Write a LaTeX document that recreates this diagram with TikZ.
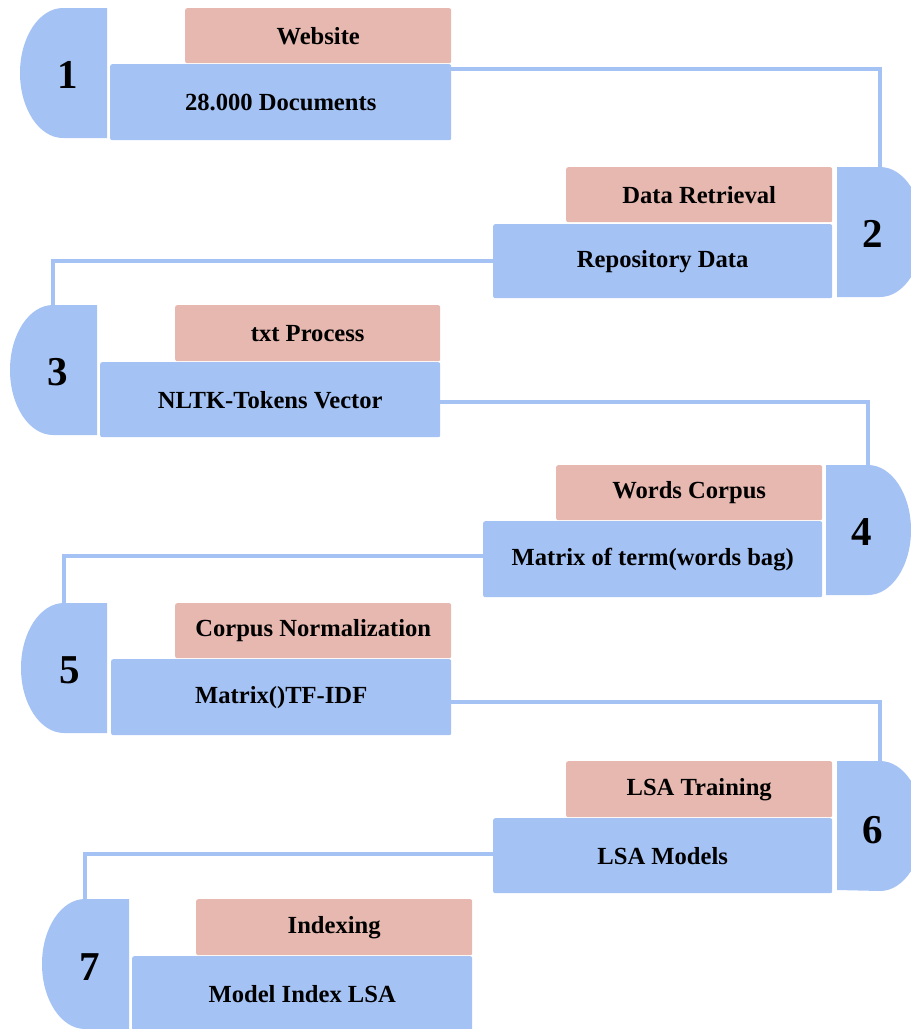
\documentclass[tikz,border=0pt]{standalone}
\usepackage{fontspec}
\setmainfont{Liberation Serif}
\definecolor{stepblue}{RGB}{164, 194, 244}
\definecolor{steppink}{RGB}{230, 184, 175}
\usepackage{tikz}
\usetikzlibrary{positioning}

\begin{document}
\begin{tikzpicture}[x=1pt, y=-1pt,
    pinkbox/.style={fill=steppink, rounded corners=2pt, inner sep=0pt, anchor=north west,
      minimum height=55pt, font=\bfseries\fontsize{24.6}{28}\selectfont},
    bluebox/.style={fill=stepblue, rounded corners=2pt, inner sep=0pt, anchor=north west,
      minimum height=75pt, font=\bfseries\fontsize{24.6}{28}\selectfont},
    tabnum/.style={inner sep=0pt, font=\bfseries\fontsize{41}{44}\selectfont},
    link/.style={draw=stepblue, line width=4pt}]
        \useasboundingbox (0,0) rectangle (911,1029);
        % step 1
        \fill[stepblue] (107,8) -- (63,8) arc[start angle=90, end angle=270, x radius=43pt, y radius=65pt] -- (107,138) -- cycle;
        \node[tabnum] (n1) at (68,75) {1};
        \node[pinkbox, minimum width=266pt] (p1) at (185,8) {Website};
        \node[bluebox, minimum width=341pt, minimum height=76pt] (b1) at (110,64) {28.000 Documents};
        % step 2
        \fill[stepblue] (837,167) -- (880,167) arc[start angle=90, end angle=-90, x radius=43pt, y radius=65pt] -- (837,297) -- cycle;
        \coordinate (c2) at (880,167);
        \node[tabnum] (n2) at (873,234) {2};
        \node[pinkbox, minimum width=266pt] (p2) at (566,167) {Data Retrieval};
        \node[bluebox, minimum width=339pt, minimum height=74pt] (b2) at (493,224) {Repository Data};
        % step 3
        \fill[stepblue] (97,305) -- (53,305) arc[start angle=90, end angle=270, x radius=43pt, y radius=65pt] -- (97,435) -- cycle;
        \coordinate (c3) at (53,305);
        \node[tabnum] (n3) at (58,372) {3};
        \node[pinkbox, minimum width=265pt, minimum height=56pt] (p3) at (175,305) {txt Process};
        \node[bluebox, minimum width=340pt] (b3) at (100,362) {NLTK-Tokens Vector};
        % step 4
        \fill[stepblue] (826,465) -- (868,465) arc[start angle=90, end angle=-90, x radius=43pt, y radius=65pt] -- (826,595) -- cycle;
        \coordinate (c4) at (868,465);
        \node[tabnum] (n4) at (862,532) {4};
        \node[pinkbox, minimum width=266pt] (p4) at (556,465) {Words Corpus};
        \node[bluebox, minimum width=339pt, minimum height=76pt] (b4) at (483,521) {Matrix of term(words bag)};
        % step 5
        \fill[stepblue] (107,603) -- (64,603) arc[start angle=90, end angle=270, x radius=43pt, y radius=65pt] -- (107,733) -- cycle;
        \coordinate (c5) at (64,603);
        \node[tabnum] (n5) at (70,670) {5};
        \node[pinkbox, minimum width=276pt] (p5) at (175,603) {Corpus Normalization};
        \node[bluebox, minimum width=340pt, minimum height=76pt] (b5) at (111,659) {Matrix()TF-IDF};
        % step 6
        \fill[stepblue] (837,761) -- (880,761) arc[start angle=90, end angle=-90, x radius=43pt, y radius=65pt] -- (837,890) -- cycle;
        \coordinate (c6) at (880,761);
        \node[tabnum] (n6) at (873,830) {6};
        \node[pinkbox, minimum width=266pt, minimum height=56pt] (p6) at (566,761) {LSA Training};
        \node[bluebox, minimum width=339pt] (b6) at (493,818) {LSA Models};
        % step 7
        \fill[stepblue] (129,899) -- (85,899) arc[start angle=90, end angle=270, x radius=43pt, y radius=65pt] -- (129,1029) -- cycle;
        \coordinate (c7) at (85,899);
        \node[tabnum] (n7) at (90,967) {7};
        \node[pinkbox, minimum width=276pt, minimum height=56pt] (p7) at (196,899) {Indexing};
        \node[bluebox, minimum width=340pt, minimum height=76pt] (b7) at (132,956) {Model Index LSA};
        % links
        \draw[link] ([yshift=-5pt]b1.north east) -| (c2);
        \draw[link] (b2.west) -| (c3);
        \draw[link] ([yshift=-2pt]b3.east) -| (c4);
        \draw[link] ([yshift=3pt]b4.west) -| (c5);
        \draw[link] ([yshift=-5pt]b5.east) -| (c6);
        \draw[link] ([yshift=2pt]b6.west) -| (c7);
      \end{tikzpicture}
\end{document}
